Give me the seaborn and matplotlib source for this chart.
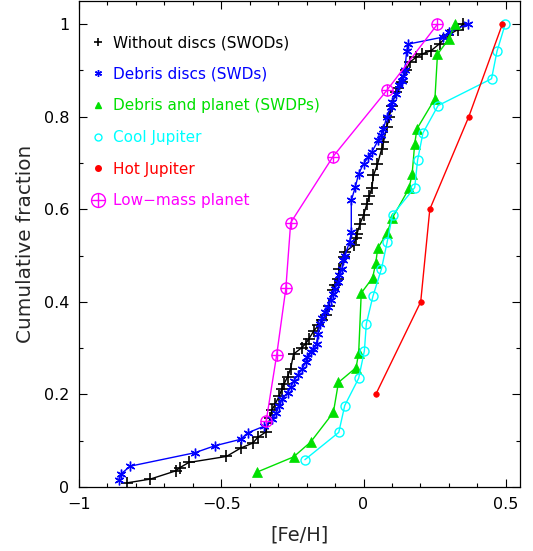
import matplotlib
matplotlib.use("Agg")
import matplotlib.pyplot as plt
from matplotlib.lines import Line2D
from matplotlib.ticker import MultipleLocator
import seaborn as sns

# === data: [Fe/H] and cumulative fraction ===
swod_feh = [-0.831, -0.75, -0.659, -0.645, -0.614, -0.482, -0.432, -0.389, -0.372, -0.343,
            -0.328, -0.322, -0.31, -0.296, -0.287, -0.279, -0.267, -0.256, -0.246, -0.217,
            -0.203, -0.192, -0.174, -0.159, -0.145, -0.131, -0.122, -0.108, -0.099, -0.091,
            -0.086, -0.07, -0.064, -0.035, -0.027, -0.023, -0.012, 0.0, 0.012, 0.02,
            0.029, 0.035, 0.049, 0.064, 0.07, 0.082, 0.091, 0.099, 0.114, 0.122,
            0.134, 0.149, 0.163, 0.186, 0.204, 0.238, 0.268, 0.297, 0.331, 0.35]
swod_cum = [0.009, 0.017, 0.035, 0.042, 0.053, 0.066, 0.084, 0.095, 0.107, 0.119,
            0.15, 0.166, 0.18, 0.197, 0.212, 0.223, 0.238, 0.256, 0.287, 0.301,
            0.31, 0.32, 0.338, 0.349, 0.36, 0.371, 0.392, 0.425, 0.436, 0.45,
            0.47, 0.497, 0.508, 0.522, 0.539, 0.547, 0.569, 0.587, 0.612, 0.628,
            0.645, 0.673, 0.697, 0.731, 0.745, 0.778, 0.8, 0.824, 0.853, 0.862,
            0.875, 0.9, 0.918, 0.929, 0.935, 0.943, 0.958, 0.976, 0.988, 1.0]

swd_feh = [-0.86, -0.851, -0.82, -0.593, -0.523, -0.432, -0.407, -0.351, -0.32, -0.308,
           -0.296, -0.285, -0.267, -0.256, -0.244, -0.232, -0.215, -0.203, -0.197, -0.186,
           -0.177, -0.165, -0.16, -0.153, -0.145, -0.137, -0.126, -0.116, -0.107, -0.101,
           -0.089, -0.085, -0.075, -0.072, -0.066, -0.049, -0.043, -0.043, -0.029, -0.017,
           0.0, 0.017, 0.029, 0.052, 0.062, 0.07, 0.082, 0.095, 0.101, 0.115,
           0.126, 0.134, 0.14, 0.145, 0.152, 0.158, 0.279, 0.3, 0.366]
swd_cum = [0.016, 0.029, 0.045, 0.074, 0.089, 0.103, 0.117, 0.131, 0.146, 0.16,
           0.176, 0.191, 0.204, 0.216, 0.23, 0.241, 0.256, 0.27, 0.281, 0.292,
           0.299, 0.31, 0.331, 0.353, 0.366, 0.378, 0.389, 0.403, 0.418, 0.428,
           0.443, 0.457, 0.472, 0.49, 0.5, 0.529, 0.551, 0.619, 0.648, 0.677,
           0.698, 0.713, 0.724, 0.749, 0.76, 0.774, 0.8, 0.821, 0.832, 0.85,
           0.868, 0.878, 0.889, 0.9, 0.943, 0.957, 0.972, 0.983, 1.0]

swdp_feh = [-0.375, -0.246, -0.186, -0.106, -0.088, -0.026, -0.017, -0.008, 0.032, 0.043,
            0.05, 0.082, 0.101, 0.16, 0.171, 0.18, 0.188, 0.251, 0.26, 0.3, 0.321]
swdp_cum = [0.032, 0.065, 0.097, 0.161, 0.226, 0.258, 0.29, 0.419, 0.452, 0.484,
            0.516, 0.548, 0.581, 0.645, 0.677, 0.742, 0.774, 0.839, 0.935, 0.968, 1.0]

cool_feh = [-0.206, -0.087, -0.066, -0.017, 0.003, 0.01, 0.033, 0.063, 0.083, 0.102,
            0.18, 0.19, 0.209, 0.262, 0.45, 0.469, 0.498]
cool_cum = [0.059, 0.118, 0.176, 0.235, 0.294, 0.353, 0.412, 0.471, 0.529, 0.588,
            0.647, 0.706, 0.765, 0.824, 0.882, 0.941, 1.0]

hot_feh = [0.043, 0.201, 0.233, 0.37, 0.488]
hot_cum = [0.2, 0.4, 0.6, 0.8, 1.0]

low_feh = [-0.342, -0.305, -0.273, -0.256, -0.107, 0.082, 0.26]
low_cum = [0.143, 0.286, 0.429, 0.571, 0.714, 0.857, 1.0]

labels = ["Without discs (SWODs)", "Debris discs (SWDs)", "Debris and planet (SWDPs)",
          "Cool Jupiter", "Hot Jupiter", "Low\u2212mass planet"]
colors = ["black", "#0000ff", "#00e000", "#00ffff", "#ff0000", "#ff00ff"]

xtick_vals = [-1, -0.5, 0, 0.5]
xtick_labels = ["\u22121", "\u22120.5", "0", "0.5"]
ytick_vals = [0, 0.2, 0.4, 0.6, 0.8, 1.0]
ytick_labels = ["0", "0.2", "0.4", "0.6", "0.8", "1"]

# === style ===
sns.set_style("ticks")
plt.rcParams['font.family'] = ['DejaVu Sans']
plt.rcParams['axes.edgecolor'] = 'black'

fig = plt.figure(figsize=(5.33, 5.51), dpi=100)
ax = fig.add_axes([79 / 533, 64 / 551, 441 / 533, 486 / 551])

lw = 1.0
star = (6, 2, 0)

sns.lineplot(x=swod_feh, y=swod_cum, ax=ax, color=colors[0], lw=lw, sort=False, estimator=None,
             marker='+', ms=8, mec=colors[0], mew=1.2)
sns.lineplot(x=swd_feh, y=swd_cum, ax=ax, color=colors[1], lw=lw, sort=False, estimator=None,
             marker=star, ms=7, mec=colors[1], mew=1.0)
sns.lineplot(x=swdp_feh, y=swdp_cum, ax=ax, color=colors[2], lw=lw, sort=False, estimator=None,
             marker='^', ms=6.5, mec=colors[2], mfc=colors[2], mew=0.5)
sns.lineplot(x=cool_feh, y=cool_cum, ax=ax, color=colors[3], lw=lw, sort=False, estimator=None,
             marker='o', ms=6.5, mec=colors[3], mfc='none', mew=1.0)
sns.lineplot(x=hot_feh, y=hot_cum, ax=ax, color=colors[4], lw=lw, sort=False, estimator=None,
             marker='o', ms=4, mec=colors[4], mfc=colors[4], mew=0.5)
sns.lineplot(x=low_feh, y=low_cum, ax=ax, color=colors[5], lw=lw, sort=False, estimator=None,
             marker='o', ms=8, mec=colors[5], mfc='none', mew=1.0)
ax.plot(low_feh, low_cum, ls='none', marker='+', ms=8, mec=colors[5], mew=1.0)

# === legend: markers only, coloured text ===
handles = [
    Line2D([], [], ls='none', marker='+', ms=6, mec=colors[0], mew=1.2),
    Line2D([], [], ls='none', marker=star, ms=5, mec=colors[1], mew=1.0),
    Line2D([], [], ls='none', marker='^', ms=5, mec=colors[2], mfc=colors[2]),
    Line2D([], [], ls='none', marker='o', ms=5, mec=colors[3], mfc='none', mew=1.0),
    Line2D([], [], ls='none', marker='o', ms=4, mec=colors[4], mfc=colors[4]),
    (Line2D([], [], ls='none', marker='o', ms=10, mec=colors[5], mfc='none', mew=1.0),
     Line2D([], [], ls='none', marker='+', ms=10, mec=colors[5], mew=1.0)),
]
ax.legend(handles, labels, loc='upper left', bbox_to_anchor=(90 / 533, 1 - 35 / 551),
          bbox_transform=fig.transFigure, frameon=False, fontsize=11,
          handlelength=1.0, handletextpad=0.5, labelspacing=1.09,
          borderpad=0, borderaxespad=0, labelcolor=colors)

# === axes ===
ax.set_xlim(-1, 0.55)
ax.set_ylim(0, 1.05)
ax.set_xticks(xtick_vals)
ax.set_xticklabels(xtick_labels)
ax.set_yticks(ytick_vals)
ax.set_yticklabels(ytick_labels)
ax.xaxis.set_minor_locator(MultipleLocator(0.1))
ax.yaxis.set_minor_locator(MultipleLocator(0.1))
ax.tick_params(which='both', direction='in', top=True, right=True, width=0.8, colors='black')
ax.tick_params(which='major', length=6, labelsize=11.5, pad=7)
ax.tick_params(which='minor', length=3)
for sp in ax.spines.values():
    sp.set_linewidth(0.9)

ax.set_xlabel("[Fe/H]", fontsize=14)
ax.set_ylabel("Cumulative fraction", fontsize=14.4)
ax.xaxis.set_label_coords(0.5, -0.08)
ax.yaxis.set_label_coords(-0.1, 0.5)

fig.savefig("out.png", dpi=100)
